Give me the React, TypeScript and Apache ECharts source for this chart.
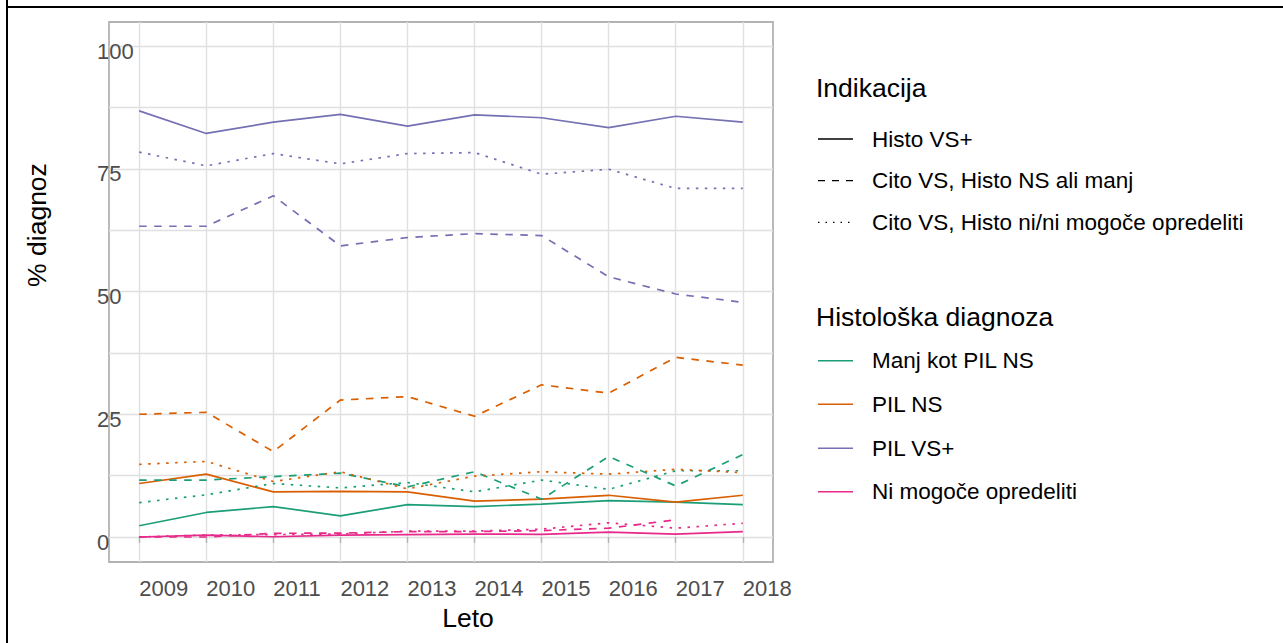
import React, { useEffect, useRef } from "react";
import * as echarts from "echarts";

const years = [2009, 2010, 2011, 2012, 2013, 2014, 2015, 2016, 2017, 2018];
const yTicks = [0, 12.5, 25, 37.5, 50, 62.5, 75, 87.5, 100];
const yLabels = [0, 25, 50, 75, 100];

const diagnosisNames = ["Manj kot PIL NS", "PIL NS", "PIL VS+", "Ni mogoče opredeliti"];
const diagnosisColors = ["#1B9E77", "#D95F02", "#7570B3", "#E7298A"];
const indicationNames = [
  "Histo VS+",
  "Cito VS, Histo NS ali manj",
  "Cito VS, Histo ni/ni mogoče opredeliti",
];

// Histo VS+ (solid)
const histoManj = [2.3, 5.0, 6.2, 4.3, 6.6, 6.2, 6.7, 7.4, 7.1, 6.6];
const histoPilNS = [10.9, 12.8, 9.2, 9.3, 9.2, 7.3, 7.7, 8.5, 7.1, 8.5];
const histoPilVS = [86.8, 82.2, 84.5, 86.1, 83.7, 86.0, 85.4, 83.4, 85.7, 84.5];
const histoNi = [0.0, 0.4, 0.05, 0.4, 0.5, 0.6, 0.55, 1.0, 0.6, 1.1];

// Cito VS, Histo NS ali manj (dashed)
const citoNsManj = [11.6, 11.6, 12.3, 13.0, 10.2, 13.3, 7.7, 16.4, 10.4, 16.8];
const citoNsPilNS = [25.0, 25.4, 17.4, 27.9, 28.6, 24.6, 31.0, 29.3, 36.6, 35.0];
const citoNsPilVS = [63.3, 63.3, 69.5, 59.3, 61.0, 61.8, 61.4, 53.0, 49.5, 47.8];
const citoNsNi = [0.0, 0.0, 0.75, 0.8, 1.1, 1.1, 1.3, 1.8, 3.5, null];

// Cito VS, Histo ni/ni mogoče opredeliti (dotted)
const citoNiManj = [7.0, 8.6, 10.9, 10.0, 11.1, 9.2, 11.6, 9.7, 13.5, 13.5];
const citoNiPilNS = [14.8, 15.4, 11.3, 13.3, 9.8, 12.4, 13.3, 12.8, 13.8, 13.1];
const citoNiPilVS = [78.4, 75.6, 78.1, 76.0, 78.1, 78.3, 73.9, 74.9, 71.0, 71.0];
const citoNiNi = [0.0, 0.4, 0.5, 0.6, 1.2, 1.2, 1.6, 2.9, 1.8, 2.8];

const seriesByIndication = [
  [histoManj, histoPilNS, histoPilVS, histoNi],
  [citoNsManj, citoNsPilNS, citoNsPilVS, citoNsNi],
  [citoNiManj, citoNiPilNS, citoNiPilVS, citoNiNi],
];

const FONT = "'Liberation Sans', Arial, sans-serif";
const lineDashes: any[] = ["solid", [7.5, 7.5], [2.5, 6.5]];
const keyDashes: any[] = [null, [7, 7], [1.5, 6]];

export default function App() {
  const ref = useRef<HTMLDivElement>(null);

  useEffect(() => {
    document.body.style.margin = "0";
    if (!ref.current) return;
    const chart = echarts.init(ref.current, null, { renderer: "svg" });

    const series: any[] = [];
    seriesByIndication.forEach((group, i) => {
      group.forEach((vals, d) => {
        series.push({
          type: "line",
          name: diagnosisNames[d] + " / " + indicationNames[i],
          data: years.map((y, k) => [y, vals[k]]),
          showSymbol: false,
          symbol: "none",
          connectNulls: false,
          lineStyle: { color: diagnosisColors[d], width: 1.7, type: lineDashes[i] },
          itemStyle: { color: diagnosisColors[d] },
          z: 3,
        });
      });
    });

    const graphic: any[] = [
      { type: "line", shape: { x1: 7, y1: 0, x2: 7, y2: 643 }, style: { stroke: "#000", lineWidth: 2 } },
      { type: "line", shape: { x1: 6, y1: 7, x2: 1283, y2: 7 }, style: { stroke: "#000", lineWidth: 2 } },
      {
        type: "text",
        left: 816,
        top: 74,
        style: { text: "Indikacija", fontSize: 26.5, fontFamily: FONT, fill: "#000" },
      },
    ];
    const leg1Y = [139, 180.7, 222.3];
    indicationNames.forEach((nm, i) => {
      graphic.push({
        type: "line",
        shape: { x1: 818, y1: leg1Y[i], x2: 853, y2: leg1Y[i] },
        style: { stroke: "#000", lineWidth: 1.3, lineDash: keyDashes[i] },
      });
      graphic.push({
        type: "text",
        x: 872,
        y: leg1Y[i],
        style: { text: nm, fontSize: 22.5, fontFamily: FONT, fill: "#000", verticalAlign: "middle", align: "left" },
      });
    });
    graphic.push({
      type: "text",
      left: 816,
      top: 303,
      style: { text: "Histološka diagnoza", fontSize: 26.5, fontFamily: FONT, fill: "#000" },
    });
    const leg2Y = [360.7, 404.3, 448.3, 491.7];
    diagnosisNames.forEach((nm, d) => {
      graphic.push({
        type: "line",
        shape: { x1: 818, y1: leg2Y[d], x2: 853, y2: leg2Y[d] },
        style: { stroke: diagnosisColors[d], lineWidth: 1.5 },
      });
      graphic.push({
        type: "text",
        x: 872,
        y: leg2Y[d],
        style: { text: nm, fontSize: 22.5, fontFamily: FONT, fill: "#000", verticalAlign: "middle", align: "left" },
      });
    });

    chart.setOption({
      animation: false,
      backgroundColor: "#fff",
      grid: {
        left: 109,
        top: 22,
        width: 664,
        height: 540,
        show: true,
        borderColor: "#b3b3b3",
        borderWidth: 1.8,
        backgroundColor: "transparent",
      },
      xAxis: {
        type: "value",
        min: 2008.55,
        max: 2018.45,
        name: "Leto",
        nameLocation: "middle",
        nameGap: 42,
        nameTextStyle: { fontSize: 26.5, fontFamily: FONT, color: "#000", padding: [0, 0, 0, 54] },
        axisLine: { show: false },
        axisTick: { show: true, length: 6, customValues: years, lineStyle: { color: "#b3b3b3", width: 1.4 } },
        axisLabel: {
          customValues: years,
          formatter: (v: number) => String(Math.round(v)),
          align: "left",
          margin: 15,
          fontSize: 22,
          fontFamily: FONT,
          color: "#4d4d4d",
        },
        splitLine: { show: true, lineStyle: { color: "#e0e0e0", width: 1.4 } },
      },
      yAxis: {
        type: "value",
        min: -5.09,
        max: 104.9,
        name: "% diagnoz",
        nameLocation: "middle",
        nameGap: 59,
        nameTextStyle: { fontSize: 26.5, fontFamily: FONT, color: "#000", padding: [0, 0, 0, 134] },
        axisLine: { show: false },
        axisTick: { show: false, customValues: yTicks },
        axisLabel: {
          customValues: yLabels,
          formatter: (v: number) => String(v),
          align: "left",
          verticalAlign: "top",
          lineHeight: 10,
          margin: 12,
          fontSize: 22,
          fontFamily: FONT,
          color: "#4d4d4d",
        },
        splitLine: { show: true, lineStyle: { color: "#e0e0e0", width: 1.4 } },
      },
      series,
      graphic,
    });

    return () => chart.dispose();
  }, []);

  return <div ref={ref} style={{ width: 1283, height: 643 }} />;
}
